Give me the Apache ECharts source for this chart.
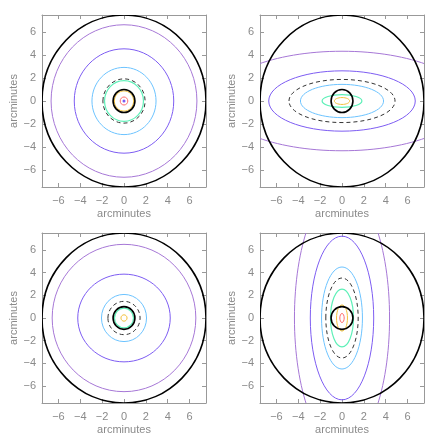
<!DOCTYPE html>
<html>
<head>
<meta charset="utf-8">
<script src="https://cdn.jsdelivr.net/npm/echarts@6/dist/echarts.min.js"></script>
<style>
  html, body { margin: 0; padding: 0; background: #fff; }
  #main { width: 436px; height: 436px; }
</style>
</head>
<body>
<div id="main"></div>
<script>
// contour levels, outermost first
var levels = ['purple', 'violet', 'sky', 'dashed', 'green', 'orange', 'red', 'core'];

// semi-axes (arcminutes) of each contour, x then y; null = not drawn
var tlX = [6.67, 4.55, 2.93, 1.93, 1.78, 0.88, 0.35, 0.07];
var tlY = [6.65, 4.55, 2.93, 1.93, 1.78, 0.88, 0.35, 0.07];
var trX = [11.4, 6.7, 3.8, 4.85, 1.82, 0.7, null, null];
var trY = [4.34, 2.63, 1.45, 1.88, 0.55, 0.3, null, null];
var blX = [6.57, 4.23, 2.06, 1.47, 0.87, 0.28, null, null];
var blY = [6.5, 3.87, 2.08, 1.47, 0.87, 0.28, null, null];
var brX = [4.35, 2.9, 1.87, 1.48, 1.05, 0.5, 0.2, null];
var brY = [11.5, 7.22, 4.5, 3.53, 2.55, 1.15, 0.4, null];

// black reference circles: field edge and 1' beam
var circleR = [7.5, 1];

var ticks = [-6, -4, -2, 0, 2, 4, 6];
var axisMax = 7.5;

var styles = {
  purple: { stroke: '#a677d6', lineWidth: 1 },
  violet: { stroke: '#7d5cf2', lineWidth: 1 },
  sky:    { stroke: '#6cc3ff', lineWidth: 1 },
  dashed: { stroke: '#333333', lineWidth: 1, lineDash: [4, 3] },
  green:  { stroke: '#5ef0b8', lineWidth: 1.2 },
  orange: { stroke: '#f2c13c', lineWidth: 1 },
  red:    { stroke: '#ff6b6b', lineWidth: 1 },
  core:   { stroke: '#7d5cf2', lineWidth: 1.5 },
  black:  { stroke: '#000000', lineWidth: 1.6 }
};

var panels = [
  { xs: tlX, ys: tlY, left: 42, top: 15 },
  { xs: trX, ys: trY, left: 260, top: 15 },
  { xs: blX, ys: blY, left: 42, top: 233 },
  { xs: brX, ys: brY, left: 260, top: 233 }
];

var font = 'Liberation Sans';
var grey = '#8a8a8a';

function fmt(v) { return v < 0 ? '\u2212' + (-v) : String(v); }

function renderEllipse(params, api) {
  var c = api.coord([0, 0]);
  var s = api.size([api.value(0), api.value(1)]);
  var st = api.value(2) < 0 ? styles.black : styles[levels[api.value(2)]];
  return {
    type: 'ellipse',
    shape: { cx: c[0], cy: c[1], rx: s[0], ry: s[1] },
    style: { fill: 'none', stroke: st.stroke, lineWidth: st.lineWidth, lineDash: st.lineDash || null }
  };
}

var grid = [], xAxis = [], yAxis = [], series = [];
panels.forEach(function (p, i) {
  grid.push({ left: p.left, top: p.top, width: 164, height: 172 });
  var base = {
    gridIndex: i, type: 'value', min: -axisMax, max: axisMax,
    splitLine: { show: false },
    axisLine: { onZero: false, lineStyle: { color: '#999999', width: 1 } },
    axisTick: { inside: true, length: 4, customValues: ticks, lineStyle: { color: '#999999' } }
  };
  xAxis.push(Object.assign({}, base, {
    position: 'bottom', name: 'arcminutes', nameLocation: 'middle', nameGap: 21,
    nameTextStyle: { color: grey, fontFamily: font, fontSize: 11 },
    axisLabel: { customValues: ticks, formatter: fmt, color: grey, fontFamily: font, fontSize: 11, margin: 8 }
  }));
  xAxis.push(Object.assign({}, base, { position: 'top', axisLabel: { show: false } }));
  yAxis.push(Object.assign({}, base, {
    position: 'left', name: 'arcminutes', nameLocation: 'middle', nameGap: 21,
    nameTextStyle: { color: grey, fontFamily: font, fontSize: 11 },
    axisLabel: { customValues: ticks, formatter: fmt, color: grey, fontFamily: font, fontSize: 11, margin: 6 }
  }));
  yAxis.push(Object.assign({}, base, { position: 'right', axisLabel: { show: false } }));

  var data = [];
  levels.forEach(function (name, k) {
    if (p.xs[k] != null) data.push([p.xs[k], p.ys[k], k]);
  });
  circleR.forEach(function (r) { data.push([r, r, -1]); });

  series.push({
    type: 'custom', xAxisIndex: i * 2, yAxisIndex: i * 2, clip: true,
    silent: true, renderItem: renderEllipse, data: data,
    encode: { x: 0, y: 1 }
  });
});

var chart = echarts.init(document.getElementById('main'));
chart.setOption({ animation: false, grid: grid, xAxis: xAxis, yAxis: yAxis, series: series });
</script>
</body>
</html>
